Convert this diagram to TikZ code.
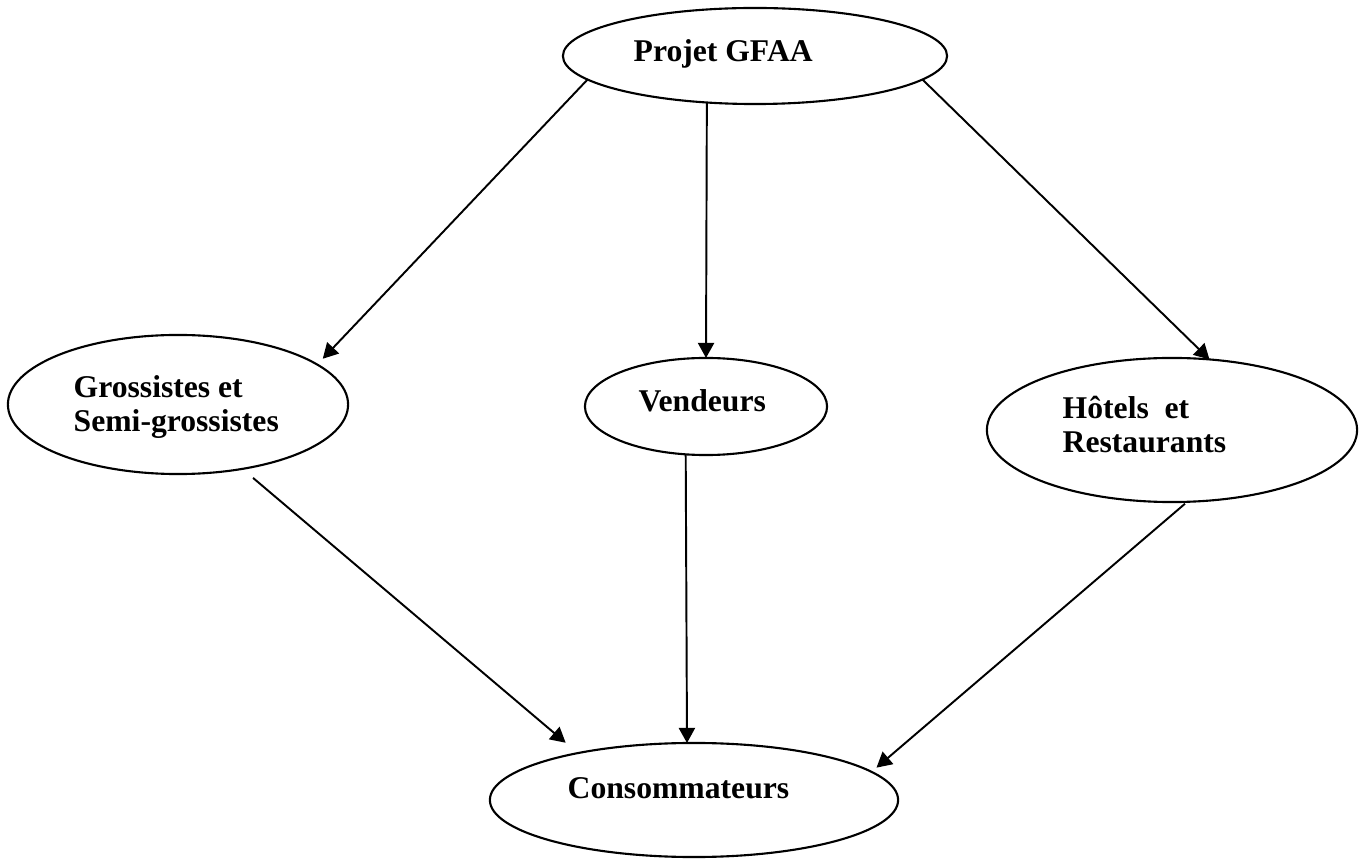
\documentclass[tikz,border=0pt]{standalone}
\usepackage{fontspec}
\setmainfont{Liberation Serif}
\usetikzlibrary{shapes.geometric, arrows.meta}

\begin{document}
\begin{tikzpicture}[x=0.01cm, y=-0.01cm, >={Triangle[length=4.3pt,width=4.6pt]},
    bulle/.style={draw, ellipse, line width=0.6pt, inner sep=0pt, outer sep=0pt},
    lbl/.style={font=\fontsize{9}{9.7}\selectfont\bfseries, align=left, inner sep=0pt, anchor=base west},
    fleche/.style={->, line width=0.55pt}]
\useasboundingbox (0,0) rectangle (1363,861);
\fill[white] (0,0) rectangle (1363,861);

\node[bulle, minimum width=3.84cm, minimum height=0.96cm] (projet) at (755,56) {};
\node[bulle, minimum width=3.40cm, minimum height=1.39cm] (gros) at (178,404.5) {};
\node[bulle, minimum width=2.42cm, minimum height=0.97cm] (vend) at (706,406.5) {};
\node[bulle, minimum width=3.70cm, minimum height=1.44cm] (hotel) at (1172,430) {};
\node[bulle, minimum width=4.08cm, minimum height=1.14cm] (conso) at (694,800) {};

% base = last line for two-line labels
\node[lbl] (projet-t) at (633,62) {Projet GFAA};
\node[lbl] (gros-t) at (73,432) {Grossistes et\\Semi-grossistes};
\node[lbl] (vend-t) at (638,412) {Vendeurs};
\node[lbl] (hotel-t) at (1062,453) {Hôtels\ \ et\\Restaurants};
\node[lbl] (conso-t) at (567,798) {Consommateurs};

\draw[fleche, shorten >=0.08cm] (projet.188) -- (gros.16);
\draw[fleche] (projet.224) -- (vend.north);
\draw[fleche] (projet.352) -- (hotel.62);
\draw[fleche, shorten <=0.14cm, shorten >=0.16cm] (gros.315) -- (conso.158);
\draw[fleche] (vend.247) -- (conso.97);
\draw[fleche, shorten <=0.03cm, shorten >=0.065cm] (hotel.282) -- (conso.9);
\end{tikzpicture}
\end{document}
